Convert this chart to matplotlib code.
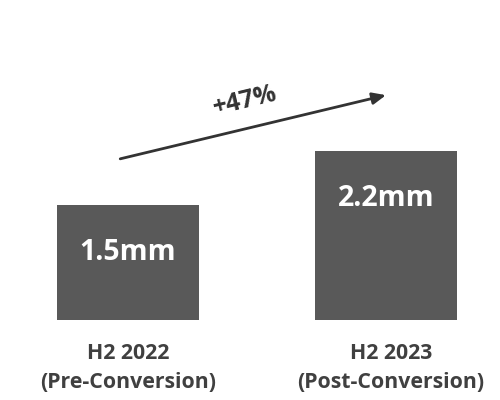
import matplotlib
matplotlib.use("Agg")
import matplotlib.pyplot as plt

# volumes per half-year, in millions
periods = ["H2 2022\n(Pre-Conversion)", "H2 2023\n(Post-Conversion)"]
values = [1.5, 2.2]
value_labels = ["1.5mm", "2.2mm"]
growth_label = "+47%"

plt.rcParams["font.family"] = ["Open Sans", "DejaVu Sans"]

bar_color = "#595959"
text_color = "#404040"

fig = plt.figure(figsize=(5, 4), dpi=100)
ax = fig.add_axes([0, 0, 1, 1])
ax.set_xlim(-0.496, 1.442)
ax.set_ylim(-1.043, 4.17)
ax.axis("off")

xs = list(range(len(values)))
ax.bar(xs, values, width=0.55, color=bar_color)

for x, v, lab in zip(xs, values, value_labels):
    ax.text(x, v - 0.62, lab, ha="center", va="center", color="white",
            fontsize=20.5, fontweight="bold")

for x, p in zip(xs, periods):
    ax.text(x + 0.02 * x, -0.62, p, ha="center", va="center", color=text_color,
            fontsize=15.3, fontweight="bold", linespacing=1.5)

# growth arrow over the two bars
start = (xs[0] - 0.03, values[0] + 0.6)
end = (xs[1] + 0.0, values[1] + 0.73)
ax.annotate("", xy=end, xytext=start,
            arrowprops=dict(arrowstyle="-|>,head_length=0.8,head_width=0.35",
                            color="#333333", lw=2, shrinkA=0, shrinkB=0))
ax.text(0.455, 2.85, growth_label, ha="center", va="center", rotation=13.5,
        color="#333333", fontsize=18, fontweight="bold")

fig.savefig("out.png", dpi=100)
